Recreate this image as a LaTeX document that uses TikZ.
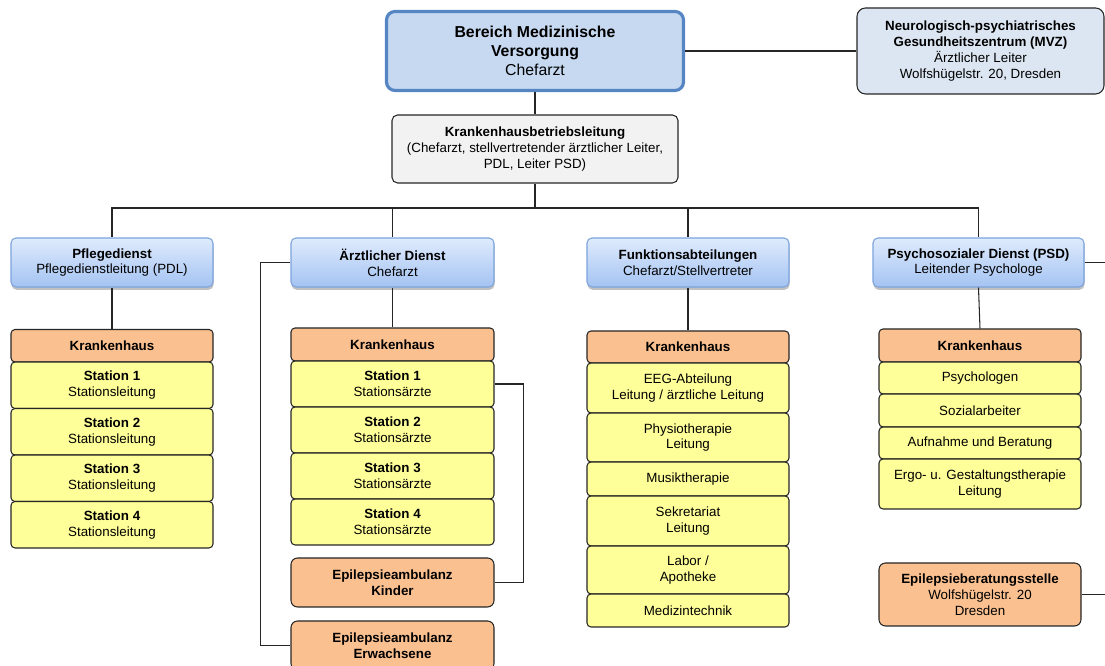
\documentclass[tikz,border=0pt]{standalone}
\usepackage{fontspec}
\setmainfont{Liberation Sans}
\usepackage{xcolor}
\usepackage{tikz}
\usetikzlibrary{shadows}
\pgfdeclarelayer{nodelayer}
\pgfdeclarelayer{edgelayer}
\pgfsetlayers{nodelayer,edgelayer,main}
\definecolor{mainfill}{HTML}{C6D9F1}
\definecolor{mainline}{HTML}{5685C4}
\definecolor{mvzfill}{HTML}{DCE6F2}
\definecolor{kblfill}{HTML}{F2F2F2}
\definecolor{bluetop}{HTML}{DFEBFD}
\definecolor{bluebot}{HTML}{A4C3F2}
\definecolor{blueline}{HTML}{7BA3DC}
\definecolor{orangefill}{HTML}{FAC090}
\definecolor{yellowfill}{HTML}{FFFF99}
\definecolor{edge}{HTML}{262626}
\tikzset{
    box/.style = {draw=edge, line width=0.6pt, align=center, inner sep=1pt,
        font=\fontsize{7.6}{9}\selectfont},
    leitung/.style = {box, draw=mainline, line width=1.8pt, fill=mainfill,
        rounded corners=0.17cm, font=\fontsize{9}{10.8}\selectfont},
    mvz/.style = {box, fill=mvzfill, rounded corners=0.17cm},
    kbl/.style = {box, fill=kblfill, rounded corners=0.11cm},
    dienst/.style = {box, draw=blueline, top color=bluetop, bottom color=bluebot,
        rounded corners=0.1cm, minimum height=0.98cm,
        drop shadow={shadow xshift=0.3pt, shadow yshift=-1.6pt, fill=black!35, opacity=0.7}},
    haus/.style = {box, fill=orangefill, rounded corners=0.08cm},
    ambulanz/.style = {box, fill=orangefill, rounded corners=0.13cm},
    station/.style = {box, fill=yellowfill, rounded corners=0.08cm},
    line/.style = {draw=edge, line width=0.6pt}
}
\begin{document}
\begin{tikzpicture}
    \useasboundingbox (0, 0) rectangle (22.1, 13.32);
    \begin{pgfonlayer}{nodelayer}
        \node [style=leitung, minimum width=5.94cm, minimum height=1.58cm] (0) at (10.70, 12.30) {\textbf{Bereich Medizinische}\\\textbf{Versorgung}\\Chefarzt};
        \node [style=mvz, minimum width=4.94cm, minimum height=1.72cm] (1) at (19.61, 12.30) {\textbf{Neurologisch-psychiatrisches}\\\textbf{Gesundheitszentrum (MVZ)}\\Ärztlicher Leiter\\Wolfshügelstr. 20, Dresden};
        \node [style=kbl, minimum width=5.72cm, minimum height=1.36cm] (2) at (10.70, 10.34) {\textbf{Krankenhausbetriebsleitung}\\(Chefarzt, stellvertretender ärztlicher Leiter,\\PDL, Leiter PSD)};
        \node [style=dienst, minimum width=4.04cm] (3) at (2.24, 8.07) {\textbf{Pflegedienst}\\Pflegedienstleitung (PDL)};
        \node [style=dienst, minimum width=4.06cm] (4) at (7.85, 8.07) {\textbf{Ärztlicher Dienst}\\Chefarzt};
        \node [style=dienst, minimum width=4.04cm] (5) at (13.76, 8.07) {\textbf{Funktionsabteilungen}\\Chefarzt/Stellvertreter};
        \node [style=dienst, minimum width=4.22cm] (6) at (19.57, 8.07) {\textbf{Psychosozialer Dienst (PSD)}\\Leitender Psychologe};
        % Pflegedienst
        \node [style=haus, minimum width=4.04cm, minimum height=0.65cm] (7) at (2.24, 6.405) {\textbf{Krankenhaus}};
        \node [style=station, minimum width=4.04cm, minimum height=0.93cm] (8) at (2.24, 5.615) {\textbf{Station 1}\\Stationsleitung};
        \node [style=station, minimum width=4.04cm, minimum height=0.93cm] (9) at (2.24, 4.685) {\textbf{Station 2}\\Stationsleitung};
        \node [style=station, minimum width=4.04cm, minimum height=0.93cm] (10) at (2.24, 3.755) {\textbf{Station 3}\\Stationsleitung};
        \node [style=station, minimum width=4.04cm, minimum height=0.93cm] (11) at (2.24, 2.825) {\textbf{Station 4}\\Stationsleitung};
        % Aerztlicher Dienst
        \node [style=haus, minimum width=4.06cm, minimum height=0.66cm] (12) at (7.85, 6.43) {\textbf{Krankenhaus}};
        \node [style=station, minimum width=4.06cm, minimum height=0.92cm] (13) at (7.85, 5.64) {\textbf{Station 1}\\Stationsärzte};
        \node [style=station, minimum width=4.06cm, minimum height=0.92cm] (14) at (7.85, 4.72) {\textbf{Station 2}\\Stationsärzte};
        \node [style=station, minimum width=4.06cm, minimum height=0.92cm] (15) at (7.85, 3.80) {\textbf{Station 3}\\Stationsärzte};
        \node [style=station, minimum width=4.06cm, minimum height=0.92cm] (16) at (7.85, 2.88) {\textbf{Station 4}\\Stationsärzte};
        \node [style=ambulanz, minimum width=4.06cm, minimum height=0.98cm] (17) at (7.85, 1.67) {\textbf{Epilepsieambulanz}\\\textbf{Kinder}};
        \node [style=ambulanz, minimum width=4.06cm, minimum height=0.98cm] (18) at (7.85, 0.41) {\textbf{Epilepsieambulanz}\\\textbf{Erwachsene}};
        % Funktionsabteilungen
        \node [style=haus, minimum width=4.04cm, minimum height=0.64cm] (19) at (13.76, 6.38) {\textbf{Krankenhaus}};
        \node [style=station, minimum width=4.04cm, minimum height=1.00cm] (20) at (13.76, 5.56) {EEG-Abteilung\\Leitung / ärztliche Leitung};
        \node [style=station, minimum width=4.04cm, minimum height=0.98cm] (21) at (13.76, 4.57) {Physiotherapie\\Leitung};
        \node [style=station, minimum width=4.04cm, minimum height=0.68cm] (22) at (13.76, 3.74) {Musiktherapie};
        \node [style=station, minimum width=4.04cm, minimum height=1.00cm] (23) at (13.76, 2.90) {Sekretariat\\Leitung};
        \node [style=station, minimum width=4.04cm, minimum height=0.96cm] (24) at (13.76, 1.92) {Labor /\\Apotheke};
        \node [style=station, minimum width=4.04cm, minimum height=0.66cm] (25) at (13.76, 1.11) {Medizintechnik};
        % Psychosozialer Dienst
        \node [style=haus, minimum width=4.04cm, minimum height=0.66cm] (26) at (19.60, 6.41) {\textbf{Krankenhaus}};
        \node [style=station, minimum width=4.04cm, minimum height=0.64cm] (27) at (19.60, 5.76) {Psychologen};
        \node [style=station, minimum width=4.04cm, minimum height=0.66cm] (28) at (19.60, 5.11) {Sozialarbeiter};
        \node [style=station, minimum width=4.04cm, minimum height=0.64cm] (29) at (19.60, 4.46) {Aufnahme und Beratung};
        \node [style=station, minimum width=4.04cm, minimum height=1.00cm] (30) at (19.60, 3.64) {Ergo- u. Gestaltungstherapie\\Leitung};
        \node [style=ambulanz, minimum width=4.04cm, minimum height=1.26cm] (31) at (19.60, 1.43) {\textbf{Epilepsieberatungsstelle}\\Wolfshügelstr. 20\\Dresden};
        \coordinate (32) at (10.70, 9.16);
        \coordinate (33) at (22.40, 8.07);
    \end{pgfonlayer}
    \begin{pgfonlayer}{edgelayer}
        \draw [style=line] (0.east) to (1.west);
        \draw [style=line] (0.south) to (2.north);
        \draw [style=line] (2.south) to (32);
        \draw [style=line] (32) -| (3.north);
        \draw [style=line] (32) -| (4.north);
        \draw [style=line] (32) -| (5.north);
        \draw [style=line] (32) -| (6.north);
        \draw [style=line] (3.south) to (7.north);
        \draw [style=line] (4.south) to (12.north);
        \draw [style=line] (5.south) to (19.north);
        \draw [style=line] (6.south) to (26.north);
        \draw [style=line] (13.east) -- ++(0.58, 0) |- (17.east);
        \draw [style=line] (4.west) -- ++(-0.60, 0) |- (18.west);
        \draw [style=line] (6.east) -- (33) |- (31.east);
    \end{pgfonlayer}
\end{tikzpicture}
\end{document}
